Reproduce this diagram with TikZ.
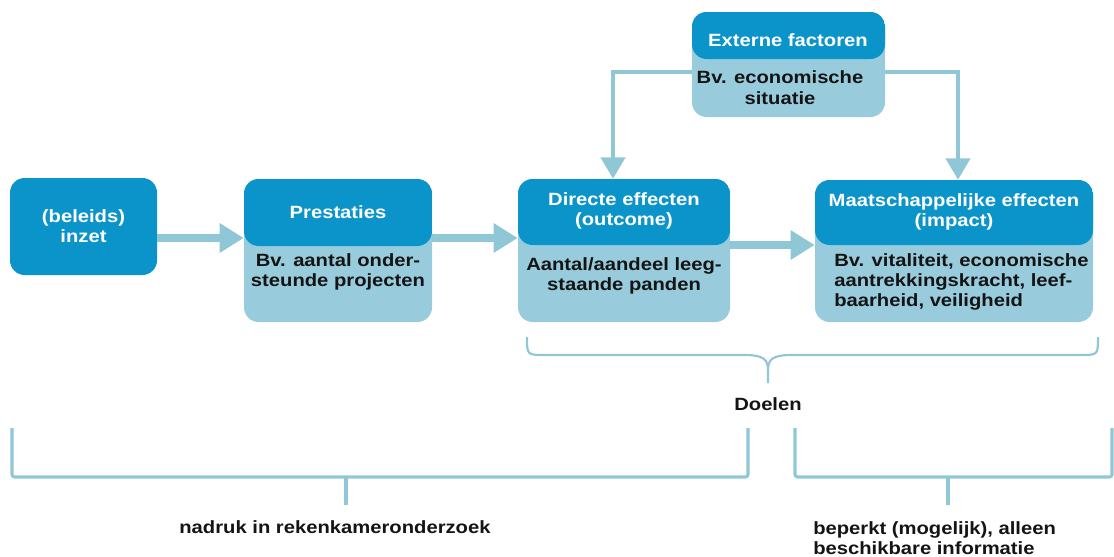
\documentclass[tikz,border=0pt]{standalone}
\usepackage{fontspec}
\setmainfont{Liberation Sans}[FakeStretch=1.14]
\usetikzlibrary{arrows.meta}
\definecolor{dk}{HTML}{0B94C9}
\definecolor{lt}{HTML}{98CCDC}
\definecolor{ln}{HTML}{90C7D6}
\definecolor{tx}{HTML}{141414}
\tikzset{
  box/.style={fill=lt, rounded corners=11pt, inner sep=0pt},
  hdr/.style={path picture={\fill[dk] (path picture bounding box.north west) rectangle ([yshift=-#1]path picture bounding box.north east);}},
  htext/.style={text=white, align=center, inner sep=0pt},
  btext/.style={text=tx, align=center, inner sep=0pt},
  bigarr/.style={draw=ln, line width=6pt, -{Triangle[length=18pt,width=21pt]}},
  smallarr/.style={draw=ln, line width=3pt, -{Triangle[length=16pt,width=18pt]}},
  brace/.style={draw=ln, line width=1.6pt},
  brk/.style={draw=ln, line width=2.3pt, rounded corners=2pt},
  lbl/.style={text=tx, inner sep=0pt}
}
\begin{document}
\begin{tikzpicture}[x=0.75pt,y=-0.75pt, font=\bfseries\fontsize{13.3}{15.3}\selectfont]
\useasboundingbox (0,0) rectangle (1114,557);
% boxes
\node[box, fill=dk, minimum width=110.25pt, minimum height=72.75pt] (b1) at (83.5,226.5) {};
\node[box, hdr=50.25pt, minimum width=141pt, minimum height=107.25pt] (b2) at (338,250.5) {};
\node[box, hdr=49.5pt, minimum width=159pt, minimum height=107.25pt] (b3) at (624,250.5) {};
\node[box, hdr=48.75pt, minimum width=208.5pt, minimum height=106.5pt] (b4) at (954,251) {};
\node[box, hdr=35.25pt, minimum width=144.75pt, minimum height=78.75pt] (b5) at (788.5,64.5) {};
% texts
\node[htext] (t1) at (83.5,226) {(beleids)\\inzet};
\node[htext] (t2h) at (338,212) {Prestaties};
\node[btext] (t2b) at (338,272) {Bv. aantal onder-\\steunde projecten};
\node[htext] (t3h) at (624,211) {Directe effecten\\(outcome)};
\node[btext] (t3b) at (624,276) {Aantal/aandeel leeg-\\staande panden};
\node[htext] (t4h) at (954,212) {Maatschappelijke effecten\\(impact)};
\node[btext, align=left, anchor=west] (t4b) at (834,282) {Bv. vitaliteit, economische\\aantrekkingskracht, leef-\\baarheid, veiligheid};
\node[htext] (t5h) at (788,40) {Externe factoren};
\node[btext] (t5b) at (780,87.5) {Bv. economische\\situatie};
% connectors
\coordinate (ya) at (0,238);
\coordinate (yc) at (0,245);
\coordinate (yb) at (0,72);
\coordinate (xl) at (613,0);
\coordinate (xr) at (958,0);
\draw[bigarr] (b1.east |- ya) -- (b2.west |- ya);
\draw[bigarr] (b2.east |- ya) -- (b3.west |- ya);
\draw[bigarr] (b3.east |- yc) -- (b4.west |- yc);
\draw[smallarr] (b5.west |- yb) -| (xl |- b3.north);
\draw[smallarr] (b5.east |- yb) -| (xr |- b4.north);
% brace
\draw[brace] (527,337) .. controls (527,355) .. (545,355) -- (745,355) .. controls (764,355) and (768,360) .. (768,370) -- (768,383);
\draw[brace] (768,370) .. controls (768,360) and (772,355) .. (791,355) -- (1080,355) .. controls (1098,355) .. (1098,337);
\node[lbl] (doel) at (768,404) {Doelen};
% brackets
\draw[brk] (12,428) |- (748,477) -- (748,428);
\draw[brk] (346,477) -- (346,505);
\draw[brk] (795,428) |- (1112,477) -- (1112,428);
\draw[brk] (948,477) -- (948,505);
\node[lbl] (n1) at (335,527) {nadruk in rekenkameronderzoek};
\node[lbl, align=left, anchor=west] (n2) at (813,538) {beperkt (mogelijk), alleen\\beschikbare informatie};
\end{tikzpicture}
\end{document}
